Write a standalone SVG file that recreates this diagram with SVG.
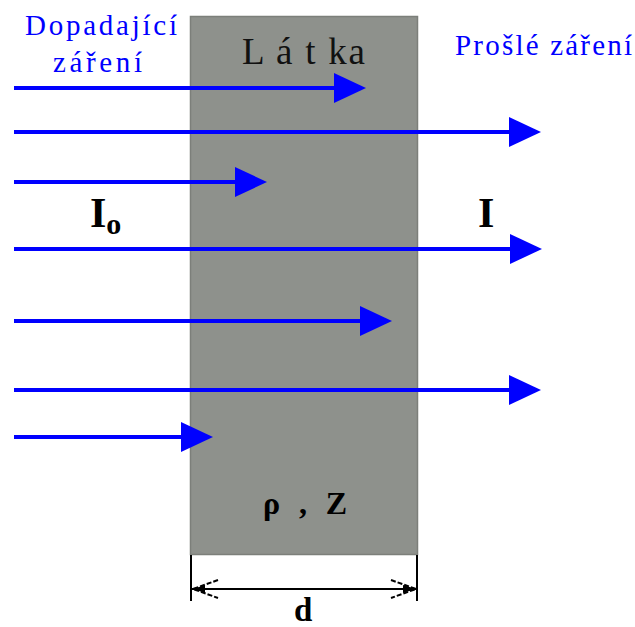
<svg xmlns="http://www.w3.org/2000/svg" width="635" height="627" viewBox="0 0 635 627">
<style>
.ray{stroke:#0000ff;stroke-width:4;fill:none}
.serif{font-family:"Liberation Serif","Times New Roman","DejaVu Serif",serif}
.blue{fill:#0000ff;font-size:29px}
.bold{font-weight:bold;fill:#000}
.dim{stroke:#000;stroke-width:2;fill:none}
.barb{stroke:#000;stroke-width:2;stroke-dasharray:5 2;fill:none}
</style>
<defs>
<marker id="head" markerUnits="userSpaceOnUse" markerWidth="33" markerHeight="31" refX="0" refY="15" orient="auto">
<path d="M0,0 L32,15 L0,30 Z" fill="#0000ff"/>
</marker>
</defs>
<rect width="635" height="627" fill="#fff"/>
<g id="latka">
<rect x="190.5" y="16.5" width="227" height="538" fill="#8e918c" stroke="#7c7f7a" stroke-width="1.5"/>
<text class="serif" x="242" y="64" font-size="37" fill="#111" textLength="123">L á t ka</text>
<text class="serif bold" x="263" y="514" font-size="32" textLength="84">ρ , Z</text>
</g>
<g id="labels">
<text class="serif blue" x="25" y="35" textLength="152">Dopadající</text>
<text class="serif blue" x="53" y="72" textLength="89">záření</text>
<text class="serif blue" x="455" y="55" textLength="177">Prošlé záření</text>
<text class="serif bold" x="90" y="227" font-size="42">I<tspan font-size="30" dy="7">o</tspan></text>
<text class="serif bold" x="478" y="227" font-size="42">I</text>
<text class="serif bold" x="294" y="621" font-size="33">d</text>
</g>
<g id="connectors">
<line class="ray" x1="14" y1="88" x2="334" y2="88" marker-end="url(#head)"/>
<line class="ray" x1="14" y1="132" x2="509" y2="132" marker-end="url(#head)"/>
<line class="ray" x1="14" y1="182" x2="235" y2="182" marker-end="url(#head)"/>
<line class="ray" x1="14" y1="249" x2="510" y2="249" marker-end="url(#head)"/>
<line class="ray" x1="14" y1="321" x2="360" y2="321" marker-end="url(#head)"/>
<line class="ray" x1="14" y1="390" x2="509" y2="390" marker-end="url(#head)"/>
<line class="ray" x1="14" y1="437" x2="181" y2="437" marker-end="url(#head)"/>
</g>
<g id="dimension">
<line class="dim" x1="191" y1="555" x2="191" y2="601"/>
<line class="dim" x1="417" y1="555" x2="417" y2="601"/>
<line class="dim" x1="192" y1="589" x2="416" y2="589"/>
<path class="barb" d="M218,580 L193,589 L218,598"/>
<path class="barb" d="M391,580 L416,589 L391,598"/>
<path d="M193,589 L205,585 L205,593 Z" fill="#000"/>
<path d="M416,589 L403,585 L403,593 Z" fill="#000"/>
</g>
</svg>
